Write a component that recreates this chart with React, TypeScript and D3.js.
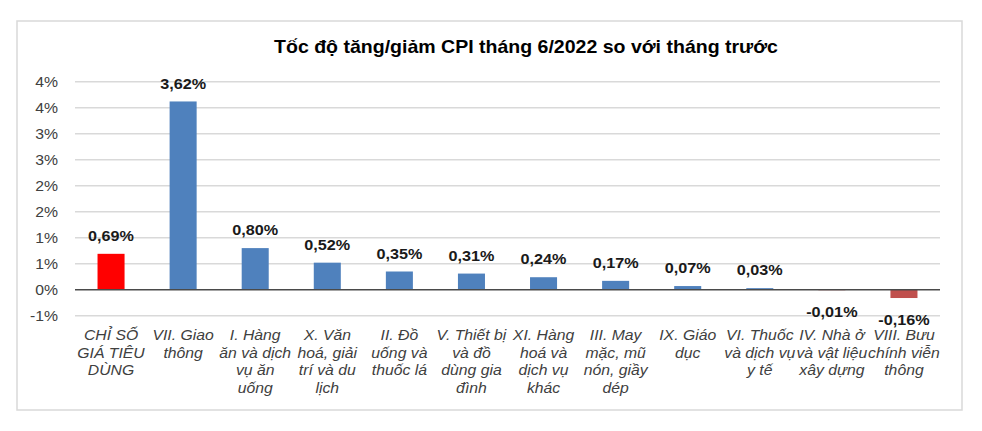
import React from "react";
import * as d3 from "d3";

const categories: string[][] = [
  ["CHỈ SỐ", "GIÁ TIÊU", "DÙNG"],
  ["VII. Giao", "thông"],
  ["I. Hàng", "ăn và dịch", "vụ ăn", "uống"],
  ["X. Văn", "hoá, giải", "trí và du", "lịch"],
  ["II. Đồ", "uống và", "thuốc lá"],
  ["V. Thiết bị", "và đồ", "dùng gia", "đình"],
  ["XI. Hàng", "hoá và", "dịch vụ", "khác"],
  ["III. May", "mặc, mũ", "nón, giầy", "dép"],
  ["IX. Giáo", "dục"],
  ["VI. Thuốc", "và dịch vụ", "y tế"],
  ["IV. Nhà ở", "và vật liệu", "xây dựng"],
  ["VIII. Bưu", "chính viễn", "thông"],
];

const values: number[] = [0.69, 3.62, 0.8, 0.52, 0.35, 0.31, 0.24, 0.17, 0.07, 0.03, -0.01, -0.16];

const tickValues: number[] = [-0.5, 0, 0.5, 1, 1.5, 2, 2.5, 3, 3.5, 4];
const tickLabels: string[] = ["-1%", "0%", "1%", "1%", "2%", "2%", "3%", "3%", "4%", "4%"];

const title = "Tốc độ tăng/giảm CPI tháng 6/2022 so với tháng trước";

const FONT = "'Liberation Sans', Arial, sans-serif";
const SX = 1.11;

const W = 982;
const H = 431;

export default function App() {
  const x = d3
    .scaleBand<number>()
    .domain(d3.range(categories.length))
    .range([75, 940])
    .paddingInner(0.625)
    .paddingOuter(0.3125);
  const y = d3.scaleLinear().domain([-0.5, 4]).range([315.7, 81.7]);

  const barColor = (v: number, i: number) => (i === 0 ? "#FF0000" : v < 0 ? "#C0504D" : "#4F81BD");
  const fmt = (v: number) => v.toFixed(2).replace(".", ",") + "%";

  return (
    <svg
      width={W}
      height={H}
      style={{ position: "fixed", left: 0, top: 0, display: "block", background: "#fff" }}
    >
      <rect x={0} y={0} width={W} height={H} fill="#fff" />
      <rect x={17} y={21} width={945} height={389} fill="#fff" stroke="#D9D9D9" strokeWidth={1.5} />

      <g transform={`translate(526,53) scale(${SX},1)`}>
        <text textAnchor="middle" fontFamily={FONT} fontSize={17.6} fontWeight="bold" fill="#000">
          {title}
        </text>
      </g>

      {tickValues.map((t, i) =>
        t === 0 ? null : (
          <line key={"g" + i} x1={75} x2={940} y1={y(t)} y2={y(t)} stroke="#D9D9D9" strokeWidth={1.4} />
        )
      )}

      {tickValues.map((t, i) => (
        <g key={"t" + i} transform={`translate(58,${y(t) + 5}) scale(${SX},1)`}>
          <text textAnchor="end" fontFamily={FONT} fontSize={14.2} fill="#404040">
            {tickLabels[i]}
          </text>
        </g>
      ))}

      {values.map((v, i) => {
        const y0 = y(0);
        const y1 = y(v);
        return (
          <rect
            key={"b" + i}
            x={x(i)!}
            width={x.bandwidth()}
            y={Math.min(y0, y1)}
            height={Math.abs(y1 - y0)}
            fill={barColor(v, i)}
          />
        );
      })}

      <line x1={75} x2={940} y1={y(0)} y2={y(0)} stroke="#4A4A4A" strokeWidth={1.6} />

      {values.map((v, i) => {
        const cx = x(i)! + x.bandwidth() / 2;
        const ly = v >= 0 ? y(v) - 12.8 : y(v) + 26.5;
        return (
          <g key={"l" + i} transform={`translate(${cx},${ly}) scale(${SX},1)`}>
            <text textAnchor="middle" fontFamily={FONT} fontSize={14.6} fontWeight="bold" fill="#1a1a1a">
              {fmt(v)}
            </text>
          </g>
        );
      })}

      {categories.map((lines, i) => {
        const cx = x(i)! + x.bandwidth() / 2;
        return lines.map((ln, j) => (
          <g key={"c" + i + "-" + j} transform={`translate(${cx},${340 + j * 17.5}) scale(${SX},1)`}>
            <text textAnchor="middle" fontFamily={FONT} fontSize={14.2} fontStyle="italic" fill="#404040">
              {ln}
            </text>
          </g>
        ));
      })}
    </svg>
  );
}
